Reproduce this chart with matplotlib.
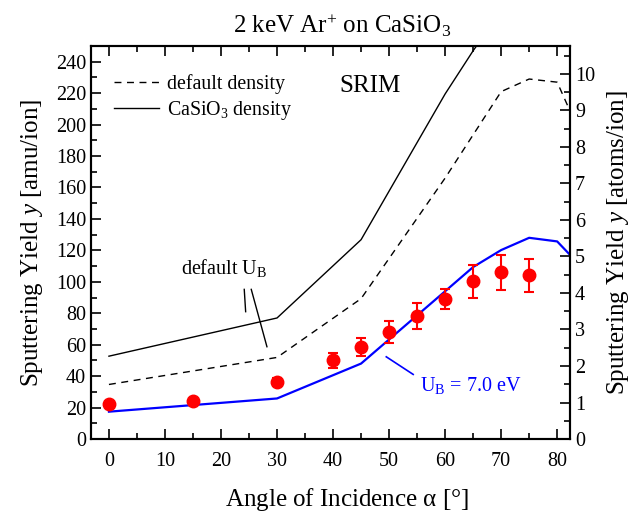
import matplotlib
matplotlib.use("Agg")
import matplotlib.pyplot as plt
from matplotlib.ticker import MultipleLocator

plt.rcParams['font.family'] = ['Liberation Serif', 'DejaVu Serif']
plt.rcParams['mathtext.fontset'] = 'custom'
plt.rcParams['mathtext.rm'] = 'Liberation Serif'
plt.rcParams['mathtext.it'] = 'Liberation Serif:italic'

# Experimental data (amu/ion)
exp_angle = [0, 15, 30, 40, 45, 50, 55, 60, 65, 70, 75]
exp_yield = [22, 24.5, 36.5, 50, 58.5, 67.8, 78.5, 89.3, 100.5, 106, 104.3]
exp_err = [0, 0, 2.5, 4.8, 5.8, 7.0, 8.2, 6.4, 10.5, 11.0, 10.5]

# SRIM, default density (dashed)
srim_def_angle = [0, 30, 45, 60, 70, 75, 80, 85]
srim_def_yield = [34.7, 51.9, 89.3, 166, 221, 229, 227, 187]

# SRIM, CaSiO3 density (solid)
srim_cas_angle = [0, 30, 45, 60, 65, 70]
srim_cas_yield = [52.7, 77, 126.8, 219.5, 247, 272]

# SRIM, U_B = 7.0 eV (blue)
srim_ub_angle = [0, 30, 45, 60, 65, 70, 75, 80, 85]
srim_ub_yield = [17.4, 25.8, 48, 94, 109.4, 120.2, 128, 125.7, 107]

amu_per_atom = 116.16 / 5.0

fig = plt.figure(figsize=(6.32, 5.13), dpi=100)
ax = fig.add_axes([0.144, 0.1442, 0.758, 0.7661])

ax.plot(srim_def_angle, srim_def_yield, color='black', lw=1.0, ls=(0, (5, 4)),
        label='default density')
ax.plot(srim_cas_angle, srim_cas_yield, color='black', lw=1.0, ls='-',
        label=r'CaSiO$_\mathregular{3}$ density')
ax.plot(srim_ub_angle, srim_ub_yield, color='#0000ff', lw=1.6)
ax.errorbar(exp_angle, exp_yield, yerr=exp_err, fmt='o', color='#ff0000',
            ms=9, elinewidth=1.5, capsize=3.5, capthick=1.5, zorder=5)

ax.set_xlim(-3.2, 82.3)
ax.set_ylim(0, 250)

ax.xaxis.set_major_locator(MultipleLocator(10))
ax.xaxis.set_minor_locator(MultipleLocator(5))
ax.yaxis.set_major_locator(MultipleLocator(20))
ax.yaxis.set_minor_locator(MultipleLocator(10))
ax.tick_params(which='both', direction='in', top=True, labelsize=14.5, width=1.2)
ax.tick_params(which='major', length=7)
ax.tick_params(which='minor', length=4)
ax.tick_params(axis='x', pad=9)
for s in ax.spines.values():
    s.set_linewidth(1.5)

ax2 = ax.twinx()
ax2.set_ylim(0, 250 / amu_per_atom)
ax2.yaxis.set_major_locator(MultipleLocator(1))
ax2.yaxis.set_minor_locator(MultipleLocator(0.5))
ax2.tick_params(which='both', direction='in', labelsize=14.5, width=1.2)
ax2.tick_params(which='major', length=7)
ax2.tick_params(which='minor', length=4)
for s in ax2.spines.values():
    s.set_linewidth(1.5)

ax.set_xlabel(r'Angle of Incidence $\mathregular{\alpha}$ [°]', fontsize=18, labelpad=11, x=0.534)
ax.set_ylabel(r'Sputtering Yield $\mathit{y}$ [amu/ion]', fontsize=18, labelpad=8)
ax2.set_ylabel(r'Sputtering Yield $\mathit{y}$ [atoms/ion]', fontsize=18, labelpad=7)
ax.set_title(r'2 keV Ar$^\mathregular{+}$ on CaSiO$_\mathregular{3}$', fontsize=18, pad=9, x=0.524)

ax.legend(loc='upper left', frameon=False, fontsize=14.3, handlelength=2.3,
          handletextpad=0.4, labelspacing=0.25, bbox_to_anchor=(0.01, 0.973))

ax.text(0.518, 0.897, 'SRIM', transform=ax.transAxes, fontsize=18, va='center')

ax.text(20.5, 108.6, r'default U$_\mathregular{B}$', fontsize=14.5, ha='center', va='center')
ax.plot([24.15, 24.4], [95.2, 81.0], color='black', lw=1.0)
ax.plot([25.4, 28.2], [95.2, 58.7], color='black', lw=1.0)

ax.plot([49.5, 54.3], [52.3, 41.1], color='#0000ff', lw=1.2)
ax.text(55.6, 34.3, r'U$_\mathregular{B}$ = 7.0 eV', fontsize=14.5, color='#0000ff',
        ha='left', va='center')

fig.savefig('out.png', dpi=100)
